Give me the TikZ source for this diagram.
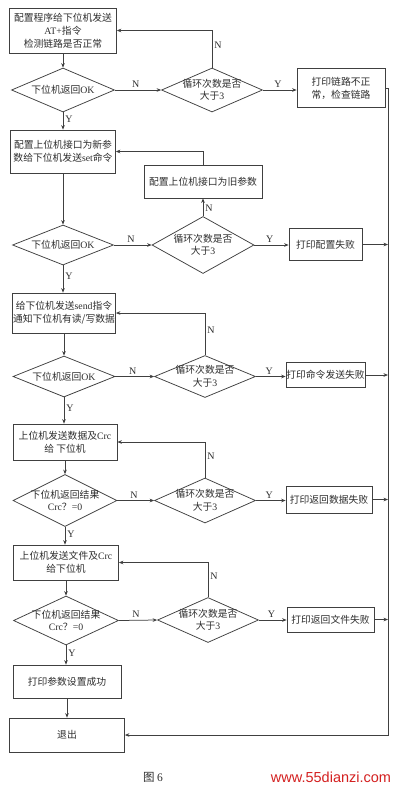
\documentclass[tikz,border=0pt]{standalone}
\usepackage{fontspec}
\setmainfont{Liberation Serif}
\newfontfamily\cjk{Noto Sans CJK SC}
\newfontfamily\wmfont{Liberation Sans}
\usetikzlibrary{arrows.meta,shapes.geometric}
\newcommand\mylat[1]{{\rmfamily #1}}
\definecolor{linec}{HTML}{404040}
\definecolor{textc}{HTML}{2E2E2E}
\definecolor{wmred}{HTML}{D42020}
\begin{document}
\begin{tikzpicture}[x=1pt,y=-1pt,
 line/.style={draw=linec, line width=0.75pt},
 arr/.style={line, -{Stealth[length=4.5pt,width=3.6pt]}},
 box/.style={draw=linec, line width=0.75pt, rectangle, inner sep=0pt, align=center,
   font=\cjk\fontsize{9.8}{13}\selectfont, text=textc},
 dia/.style={draw=linec, line width=0.75pt, diamond, inner sep=0pt},
 dtext/.style={align=center, font=\cjk\fontsize{9.8}{12.5}\selectfont, text=textc, inner sep=0pt},
 lbl/.style={font=\fontsize{10}{10}\selectfont, text=textc, inner sep=2pt},
]
\fill[white] (0,0) rectangle (400,785);
\useasboundingbox (0,0) rectangle (400,785);

% ---- block 1
\node[box, minimum width=107pt, minimum height=45pt] (A1) at (63,30.5)
  {配置程序给下位机发送\\\mylat{AT+}指令\\检测链路是否正常};
\node[dia, minimum width=103pt, minimum height=44pt,
  label={[dtext]center:{下位机返回\mylat{OK}}}] (D1) at (63,90) {};
\node[dia, minimum width=101pt, minimum height=44pt,
  label={[dtext]center:{循环次数是否\\大于\mylat{3}}}] (L1) at (212,90) {};
\node[box, minimum width=88pt, minimum height=39pt] (P1) at (341,88)
  {打印链路不正\\常，检查链路};

% ---- block 2
\node[box, minimum width=105pt, minimum height=43pt] (B1) at (63,151.5)
  {配置上位机接口为新参\\数给下位机发送\mylat{set}命令};
\node[box, minimum width=118pt, minimum height=33pt] (R2) at (203,181.5)
  {配置上位机接口为旧参数};
\node[dia, minimum width=101pt, minimum height=40pt,
  label={[dtext]center:{下位机返回\mylat{OK}}}] (D2) at (63,245) {};
\node[dia, minimum width=102pt, minimum height=57pt,
  label={[dtext]center:{循环次数是否\\大于\mylat{3}}}] (L2) at (203,245) {};
\node[box, minimum width=73pt, minimum height=32pt] (P2) at (325.5,244.5)
  {打印配置失败};

% ---- block 3
\node[box, minimum width=103pt, minimum height=40pt] (B3) at (64,313)
  {给下位机发送\mylat{send}指令\\通知下位机有读/写数据};
\node[dia, minimum width=102pt, minimum height=41pt,
  label={[dtext]center:{下位机返回\mylat{OK}}}] (D3) at (64,376.5) {};
\node[dia, minimum width=101pt, minimum height=42pt,
  label={[dtext]center:{循环次数是否\\大于\mylat{3}}}] (L3) at (205,376.5) {};
\node[box, minimum width=79pt, minimum height=25pt] (P3) at (325.5,375)
  {打印命令发送失败};

% ---- block 4
\node[box, minimum width=104pt, minimum height=36pt] (B4) at (65,442)
  {上位机发送数据及\mylat{Crc}\\给 下位机};
\node[dia, minimum width=104pt, minimum height=52pt,
  label={[dtext]center:{下位机返回结果\\\mylat{Crc}？\mylat{=0}}}] (D4) at (65,500.5) {};
\node[dia, minimum width=101pt, minimum height=45pt,
  label={[dtext]center:{循环次数是否\\大于\mylat{3}}}] (L4) at (205,500.5) {};
\node[box, minimum width=86pt, minimum height=27pt] (P4) at (329,499.5)
  {打印返回数据失败};

% ---- block 5
\node[box, minimum width=105pt, minimum height=35pt] (B5) at (66,562.5)
  {上位机发送文件及\mylat{Crc}\\给下位机};
\node[dia, minimum width=105pt, minimum height=49pt,
  label={[dtext]center:{下位机返回结果\\\mylat{Crc}？\mylat{=0}}}] (D5) at (66,620.5) {};
\node[dia, minimum width=101pt, minimum height=45pt,
  label={[dtext]center:{循环次数是否\\大于\mylat{3}}}] (L5) at (208,620) {};
\node[box, minimum width=87pt, minimum height=25pt] (P5) at (330.5,619.5)
  {打印返回文件失败};

% ---- end
\node[box, minimum width=108pt, minimum height=33pt] (B6) at (67,681.5)
  {打印参数设置成功};
\node[box, minimum width=115pt, minimum height=34pt] (EX) at (67,735)
  {退出};

\coordinate (rail) at (388,735);

% ---- connectors block 1
\draw[arr] (A1.south) -- (A1.south |- D1.north);
\draw[arr] (D1.east) -- node[lbl, above, pos=0.45]{N} (L1.west);
\draw[arr] (L1.north) |- node[lbl, right, pos=0.3]{N} (A1.east);
\draw[arr] (L1.east) -- node[lbl, above, pos=0.45]{Y} (L1.east -| P1.west);
\draw[arr] (D1.south) -- node[lbl, right, pos=0.4]{Y} (D1.south |- B1.north);
\draw[arr] (P1.east) -| (rail) -- (EX.east);

% ---- block 2
\draw[arr] (B1.south) -- (B1.south |- D2.north);
\draw[arr] (D2.east) -- node[lbl, above, pos=0.45]{N} (L2.west);
\draw[arr] (L2.north) -- node[lbl, right, pos=0.45]{N} (L2.north |- R2.south);
\draw[arr] (R2.north) |- (B1.east);
\draw[arr] (L2.east) -- node[lbl, above, pos=0.45]{Y} (L2.east -| P2.west);
\draw[arr] (P2.east) -- (P2.east -| rail);
\draw[arr] (D2.south) -- node[lbl, right, pos=0.4]{Y} (D2.south |- B3.north);

% ---- block 3
\draw[arr] (B3.south) -- (B3.south |- D3.north);
\draw[arr] (D3.east) -- node[lbl, above, pos=0.45]{N} (L3.west);
\draw[arr] (L3.north) |- node[lbl, right, pos=0.3]{N} (B3.east);
\draw[arr] (L3.east) -- node[lbl, above, pos=0.45]{Y} (L3.east -| P3.west);
\draw[arr] (P3.east) -- (P3.east -| rail);
\draw[arr] (D3.south) -- node[lbl, right, pos=0.4]{Y} (D3.south |- B4.north);

% ---- block 4
\draw[arr] (B4.south) -- (B4.south |- D4.north);
\draw[arr] (D4.east) -- node[lbl, above, pos=0.45]{N} (L4.west);
\draw[arr] (L4.north) |- node[lbl, right, pos=0.3]{N} (B4.east);
\draw[arr] (L4.east) -- node[lbl, above, pos=0.45]{Y} (L4.east -| P4.west);
\draw[arr] (P4.east) -- (P4.east -| rail);
\draw[arr] (D4.south) -- node[lbl, right, pos=0.4]{Y} (D4.south |- B5.north);

% ---- block 5
\draw[arr] (B5.south) -- (B5.south |- D5.north);
\draw[arr] (D5.east) -- node[lbl, above, pos=0.45]{N} (L5.west);
\draw[arr] (L5.north) |- node[lbl, right, pos=0.3]{N} (B5.east);
\draw[arr] (L5.east) -- node[lbl, above, pos=0.45]{Y} (L5.east -| P5.west);
\draw[arr] (P5.east) -- (P5.east -| rail);
\draw[arr] (D5.south) -- node[lbl, right, pos=0.4]{Y} (D5.south |- B6.north);

% ---- end
\draw[arr] (B6.south) -- (B6.south |- EX.north);

% ---- caption and watermark
\node[font=\cjk\fontsize{11.5}{12}\selectfont, text=textc] (cap) at (153,777) {图 \mylat{6}};
\node[font=\wmfont\fontsize{14.5}{15}\selectfont, text=wmred] (wm) at (331,777) {www.55dianzi.com};
\end{tikzpicture}
\end{document}
